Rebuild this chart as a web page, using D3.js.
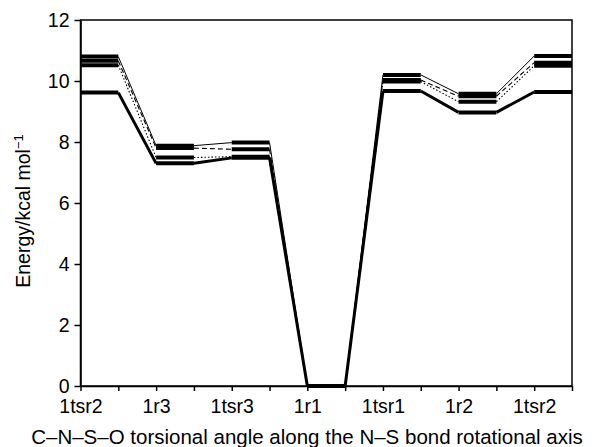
<!DOCTYPE html>
<html>
<head>
<meta charset="utf-8">
<script src="https://cdn.jsdelivr.net/npm/d3@7"></script>
<style>
  body { margin: 0; background: #fff; }
  svg text { font-family: "Liberation Sans", Arial, Helvetica, sans-serif; fill: #000; }
</style>
</head>
<body>
<svg id="chart" width="608" height="447"></svg>
<script>
// conformer / transition-state labels, one per plateau
var states = ["1tsr2", "1r3", "1tsr3", "1r1", "1tsr1", "1r2", "1tsr2"];

// energies (kcal/mol), one array per curve
var series1 = [10.80, 7.88, 7.98, 0, 10.20, 9.58, 10.82];
var series2 = [10.66, 7.80, 7.76, 0, 10.03, 9.50, 10.60];
var series3 = [10.52, 7.49, 7.52, 0, 9.98, 9.32, 10.50];
var series4 = [9.62, 7.30, 7.48, 0, 9.67, 8.97, 9.64];

var yTicks = [0, 2, 4, 6, 8, 10, 12];

var xTitle = "C\u2013N\u2013S\u2013O torsional angle along the N\u2013S bond rotational axis";

var svg = d3.select("#chart");
var margin = {left: 80.5, right: 36, top: 20, bottom: 61};
var W = 608, H = 447;

var x = d3.scaleLinear().domain([0, states.length * 2 - 1]).range([margin.left, W - margin.right]);
var y = d3.scaleLinear().domain([0, 12]).range([H - margin.bottom, margin.top]);

// connector styles for the four curves (plateaus are all drawn heavy)
var curves = [
  {vals: series1, width: 1, dash: null},
  {vals: series2, width: 1.1, dash: "5,3"},
  {vals: series3, width: 1.1, dash: "1.5,2"},
  {vals: series4, width: 3, dash: null}
];

var g = svg.append("g");

curves.forEach(function(c) {
  var links = [];
  for (var i = 0; i < c.vals.length - 1; i++) {
    links.push({x1: 2 * i + 1, y1: c.vals[i], x2: 2 * i + 2, y2: c.vals[i + 1]});
  }
  g.selectAll(null)
    .data(links)
    .enter()
    .append("line")
    .attr("x1", function(d) { return x(d.x1); })
    .attr("y1", function(d) { return y(d.y1); })
    .attr("x2", function(d) { return x(d.x2); })
    .attr("y2", function(d) { return y(d.y2); })
    .attr("stroke", "#000")
    .attr("stroke-width", c.width)
    .attr("stroke-dasharray", c.dash);
});

curves.forEach(function(c) {
  g.selectAll(null)
    .data(c.vals)
    .enter()
    .append("line")
    .attr("x1", function(d, i) { return x(2 * i); })
    .attr("x2", function(d, i) { return x(2 * i + 1); })
    .attr("y1", function(d) { return y(d); })
    .attr("y2", function(d) { return y(d); })
    .attr("stroke", "#000")
    .attr("stroke-width", 4);
});

// frame
svg.append("rect")
  .attr("x", x.range()[0])
  .attr("y", y.range()[1])
  .attr("width", x.range()[1] - x.range()[0])
  .attr("height", y.range()[0] - y.range()[1])
  .attr("fill", "none")
  .attr("stroke", "#000")
  .attr("stroke-width", 1.5);

var xAxis = d3.axisBottom(x)
  .tickValues(d3.range(states.length * 2))
  .tickFormat(function(d) { return d % 2 === 0 ? states[d / 2] : ""; })
  .tickSize(5)
  .tickPadding(8)
  .tickSizeOuter(0);

var xg = svg.append("g")
  .attr("transform", "translate(0," + y(0) + ")")
  .call(xAxis);
xg.select(".domain").attr("stroke-width", 1.5);
xg.selectAll(".tick line").attr("stroke-width", 1.5);
xg.selectAll("text").style("font-size", "19.5px");

var yAxis = d3.axisLeft(y)
  .tickValues(yTicks)
  .tickSize(6)
  .tickPadding(5)
  .tickSizeOuter(0);

var yg = svg.append("g")
  .attr("transform", "translate(" + x(0) + ",0)")
  .call(yAxis);
yg.select(".domain").attr("stroke-width", 1.5);
yg.selectAll(".tick line").attr("stroke-width", 1.5);
yg.selectAll("text").style("font-size", "19.5px");

// axis titles
svg.append("text")
  .attr("x", 307)
  .attr("y", 444)
  .attr("text-anchor", "middle")
  .style("font-size", "20.5px")
  .text(xTitle);

var yl = svg.append("text")
  .attr("transform", "translate(30,211) rotate(-90)")
  .attr("text-anchor", "middle")
  .style("font-size", "19.5px");
yl.append("tspan").text("Energy/kcal mol");
yl.append("tspan").attr("baseline-shift", "super").style("font-size", "13px").text("\u22121");
</script>
</body>
</html>
